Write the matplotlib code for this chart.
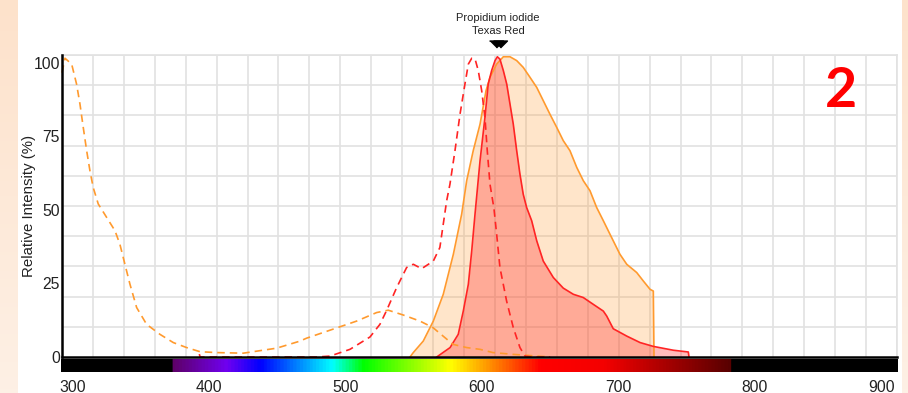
import numpy as np
import matplotlib.pyplot as plt
from matplotlib.colors import LinearSegmentedColormap, Normalize
from matplotlib.transforms import ScaledTranslation, blended_transform_factory

# Propidium iodide excitation (dashed orange)
pi_ex_nm = [291.6, 293.8, 298.7, 302.3, 304.8, 307.2, 309.7, 312.1, 314.5, 318.2, 324.4,
            330.5, 334.1, 337.8, 341.5, 346.4, 353.7, 363.5, 373.3, 383.1, 392.9, 405.1,
            424.7, 449.2, 466.3, 471.2, 488.3, 507.9, 522.6, 531.1, 541.9, 554.4, 563.9,
            578.6, 588.7, 598.5, 608.0, 622.7, 649.9]
pi_ex = [96.6, 101.5, 99.5, 92.7, 85.9, 78.0, 70.1, 63.3, 57.6, 52.0, 47.4,
         42.9, 38.3, 31.5, 24.7, 16.8, 11.1, 7.7, 4.9, 3.2, 1.8, 1.5,
         1.3, 3.0, 5.4, 6.4, 9.1, 12.2, 15.1, 15.9, 14.3, 12.2, 10.0,
         4.3, 3.2, 2.6, 1.5, 0.9, 0.0]

# Propidium iodide emission (solid orange, filled)
pi_em_nm = [547.1, 549.5, 556.8, 564.2, 571.5, 578.9, 585.0, 588.7, 593.5, 598.5, 602.9,
            605.8, 610.7, 615.6, 620.5, 625.4, 630.2, 635.2, 640.1, 644.9, 649.8, 654.8,
            659.6, 664.5, 669.5, 674.3, 679.2, 684.1, 689.0, 693.9, 701.2, 706.2, 713.5,
            718.4, 723.3, 725.7, 726.2]
pi_em = [0.0, 1.5, 5.4, 12.2, 21.3, 34.9, 48.5, 59.9, 70.1, 79.1, 90.5,
         95.0, 99.5, 102.0, 102.0, 100.7, 98.4, 95.0, 91.6, 87.1, 82.5, 78.0,
         73.5, 70.1, 64.4, 59.9, 56.5, 50.8, 46.3, 41.7, 34.9, 31.5, 28.7,
         25.8, 23.0, 22.4, 0.0]

# Texas Red excitation (dashed red)
tr_ex_nm = [392.4, 393.0, 478.6, 488.3, 503.0, 517.7, 525.0, 530.0, 537.3, 544.6, 549.5,
            555.6, 564.2, 569.0, 574.0, 576.4, 580.1, 583.8, 587.4, 589.9, 592.4, 594.8,
            597.2, 599.7, 602.1, 603.8, 605.8, 608.7, 610.7, 613.1, 618.0, 622.9, 627.8,
            631.5, 637.3, 650.0]
tr_ex = [1.0, 0.0, 0.0, 0.3, 2.6, 6.8, 11.1, 15.9, 23.6, 30.4, 31.5,
         30.0, 32.6, 37.2, 53.1, 58.7, 70.1, 82.5, 92.7, 99.5, 101.5, 101.3,
         97.3, 90.5, 81.4, 70.1, 58.7, 50.5, 41.7, 30.4, 19.0, 10.0, 3.2,
         0.3, 0.0, 0.0]

# Texas Red emission (solid red, filled)
tr_em_nm = [566.7, 576.5, 582.5, 586.2, 589.9, 592.4, 594.8, 598.5, 602.1, 604.5, 607.0,
            609.5, 611.2, 613.1, 615.6, 618.1, 620.5, 622.9, 625.4, 627.8, 630.2, 632.7,
            636.4, 640.1, 644.9, 652.3, 659.6, 667.0, 674.3, 681.6, 689.0, 691.5, 696.3,
            706.2, 716.0, 725.7, 740.4, 751.4, 751.9]
tr_em = [0.0, 3.2, 7.7, 15.6, 24.7, 36.1, 48.5, 66.7, 81.4, 92.7, 97.3,
         100.7, 102.0, 101.2, 97.3, 92.7, 85.9, 79.1, 70.1, 62.1, 55.3, 50.8,
         46.3, 39.5, 32.6, 27.0, 23.4, 21.3, 20.2, 17.9, 15.6, 13.9, 9.6,
         7.1, 4.9, 3.6, 2.3, 1.7, 0.0]

marker_names = ["Propidium iodide", "Texas Red"]
marker_nm = [610.2, 613.5]

x_ticks = [300, 400, 500, 600, 700, 800, 900]
y_ticks = [0, 25, 50, 75, 100]

# spectrum bar stops (nm, colour)
spec_nm = [291.6, 371.5, 372.5, 412, 437, 490, 513, 577, 643, 690, 782.5, 783.5, 904.6]
spec_col = ['#000000', '#000000', '#5e0066', '#7000f0', '#0000ff', '#00ffff', '#00ff00',
            '#ffff00', '#ff0000', '#f40000', '#580000', '#000000', '#000000']

xlo, xhi = 291.6, 904.6
ylo, yhi = 0, 102.6

W, H = 908, 393
fig = plt.figure(figsize=(W / 100, H / 100), dpi=100)
fig.patch.set_facecolor('white')

# peach side strips
for x0, w in [(0, 18), (902, 6)]:
    sax = fig.add_axes([x0 / W, 0, w / W, 1])
    grad = np.linspace(0, 1, 100)[:, None]
    cm = LinearSegmentedColormap.from_list('peach', ['#fde2cb', '#fdf0e5'])
    sax.imshow(grad, cmap=cm, aspect='auto', extent=[0, 1, 1, 0])
    sax.axis('off')

ax = fig.add_axes([62 / W, (H - 357) / H, (897 - 62) / W, (357 - 55) / H])
ax.set_xlim(xlo, xhi)
ax.set_ylim(ylo, yhi)

# decorative grid
ax.set_xticks(np.linspace(xlo, xhi, 28), minor=True)
ax.set_yticks(np.linspace(ylo, yhi, 11), minor=True)
ax.set_xticks([])
ax.grid(True, which='minor', color='#e2e2e2', lw=1.2, zorder=0)
ax.tick_params(which='both', length=0)
ax.set_yticks(y_ticks)
ax.set_yticklabels([str(v) for v in y_ticks], fontsize=11.3, family='Liberation Sans', color='#222222')
ax.tick_params(axis='y', pad=1.5)
ax.set_ylabel('Relative Intensity (%)', fontsize=10.8, family='Liberation Sans', color='#222222', labelpad=-2)

for side in ['top', 'right']:
    ax.spines[side].set_color('#e2e2e2')
    ax.spines[side].set_linewidth(1.2)
for side in ['left', 'bottom']:
    ax.spines[side].set_color('black')
    ax.spines[side].set_linewidth(1.8)
    ax.spines[side].set_zorder(6)

orange = '#ff9a2e'
red = '#ff2424'

ax.fill_between(pi_em_nm, pi_em, 0, color=orange, alpha=0.25, lw=0, zorder=2)
ax.fill_between(tr_em_nm, tr_em, 0, color=red, alpha=0.3, lw=0, zorder=3)
ax.plot(pi_em_nm, pi_em, color=orange, lw=1.2, zorder=4)
ax.plot(tr_em_nm, tr_em, color=red, lw=1.2, zorder=4)
ax.plot(pi_ex_nm, pi_ex, color=orange, lw=1.2, dashes=(4.5, 3), zorder=4, clip_on=False)
ax.plot(tr_ex_nm, tr_ex, color=red, lw=1.2, dashes=(4.5, 3), zorder=4, clip_on=False)

# peak markers above the plot
trans = blended_transform_factory(ax.transData, ax.transAxes)
tri = [(-1, 0.5), (1, 0.5), (0, -0.5)]
for nm in marker_nm:
    ax.plot([nm], [1 + 11 / 302], marker=tri, ms=10, color='black', transform=trans, clip_on=False)
mid = sum(marker_nm) / len(marker_nm)
for i, name in enumerate(marker_names):
    ax.text(mid, 1 + (34.3 - 13 * i) / 302, name, transform=trans, ha='center', va='baseline',
            fontsize=8, family='Liberation Sans', color='#222222')

# spectrum colour bar with the wavelength labels
cax = fig.add_axes([61 / W, (H - 372) / H, (897 - 61) / W, 13 / H])
stops = [((v - xlo) / (xhi - xlo), c) for v, c in zip(spec_nm, spec_col)]
spec_cmap = LinearSegmentedColormap.from_list('spec', stops)
wl = np.linspace(xlo, xhi, 1500)
cax.imshow(wl[None, :], cmap=spec_cmap, norm=Normalize(xlo, xhi), extent=[xlo, xhi, 0, 1], aspect='auto')
cax.set_xlim(xlo, xhi)
cax.set_yticks([])
cax.set_xticks(x_ticks)
cax.set_xticklabels([str(v) for v in x_ticks], fontsize=11.3, family='Liberation Sans', color='#222222')
cax.tick_params(axis='x', length=0, pad=5.5)
for s in cax.spines.values():
    s.set_visible(False)
last = cax.get_xticklabels()[-1]
last.set_horizontalalignment('right')
last.set_transform(last.get_transform() + ScaledTranslation(4.5 / 100, 0, fig.dpi_scale_trans))

fig.text(841 / W, 1 - 107 / H, '2', color='#ff0000', fontsize=40, fontweight='bold',
         family='Lato', ha='center', va='baseline')

plt.savefig('out.png', dpi=100)
